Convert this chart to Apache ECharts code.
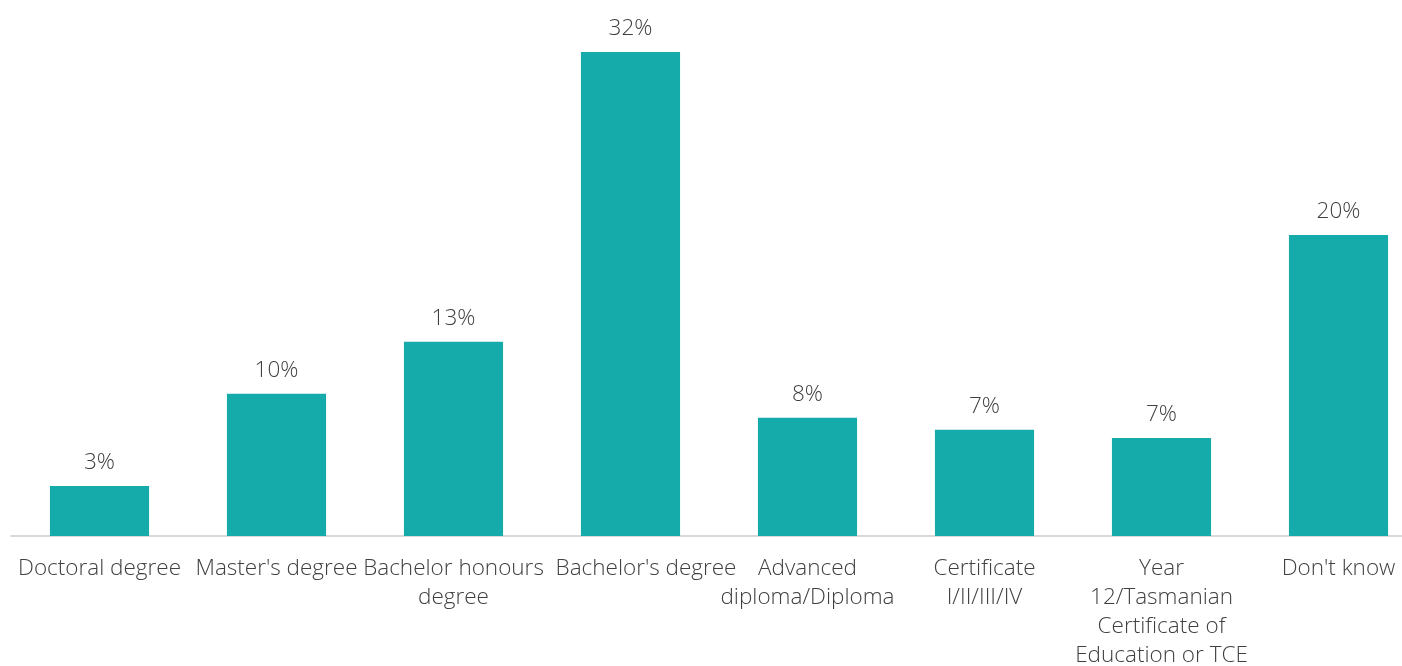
<!DOCTYPE html>
<html>
<head>
<meta charset="utf-8">
<script src="https://cdn.jsdelivr.net/npm/echarts@6/dist/echarts.min.js"></script>
<style>
  html, body { margin: 0; padding: 0; background: #ffffff; }
  #chart { width: 1402px; height: 666px; }
</style>
</head>
<body>
<div id="chart"></div>
<script>
// Highest qualification categories (line breaks as printed under the axis)
const categories = [
  "Doctoral degree",
  "Master's degree",
  "Bachelor honours\ndegree",
  "Bachelor's degree",
  "Advanced\ndiploma/Diploma",
  "Certificate\nI/II/III/IV",
  "Year\n12/Tasmanian\nCertificate of\nEducation or TCE",
  "Don't know"
];

// Share of respondents, per cent (labels show the rounded value)
const shares = [3.35, 9.54, 13.02, 32.44, 7.93, 7.12, 6.57, 20.17];

const textColor = '#404040';
const fontFamily = '"Open Sans", "Noto Sans", sans-serif';

// "Bachelor's degree" sits a little to the right so it clears its neighbour
const axisData = categories.map(name =>
  name === "Bachelor's degree"
    ? { value: name, textStyle: { padding: [0, 0, 0, 31] } }
    : name
);

const chart = echarts.init(document.getElementById('chart'), null, { renderer: 'canvas' });

chart.setOption({
  animation: false,
  backgroundColor: '#ffffff',
  // the plot runs slightly past the right edge of the canvas
  grid: { left: 11, top: 13.8, width: 1416, height: 522.2, containLabel: false, outerBoundsMode: 'none' },
  xAxis: {
    type: 'category',
    data: axisData,
    axisLine: { show: true, lineStyle: { color: '#d9d9d9', width: 2 } },
    axisTick: { show: false },
    axisLabel: {
      interval: 0,
      margin: 18.5,
      color: textColor,
      fontFamily: fontFamily,
      fontWeight: 300,
      fontSize: 22.5,
      lineHeight: 29,
      align: 'center'
    }
  },
  yAxis: {
    type: 'value',
    min: 0,
    max: 35,
    show: false,
    splitLine: { show: false }
  },
  series: [{
    type: 'bar',
    data: shares,
    barCategoryGap: '44%',
    itemStyle: { color: '#16abab' },
    label: {
      show: true,
      position: 'top',
      distance: 12,
      color: textColor,
      fontFamily: fontFamily,
      fontWeight: 300,
      fontSize: 22.5,
      formatter: p => Math.round(p.value) + '%'
    }
  }]
});
</script>
</body>
</html>
